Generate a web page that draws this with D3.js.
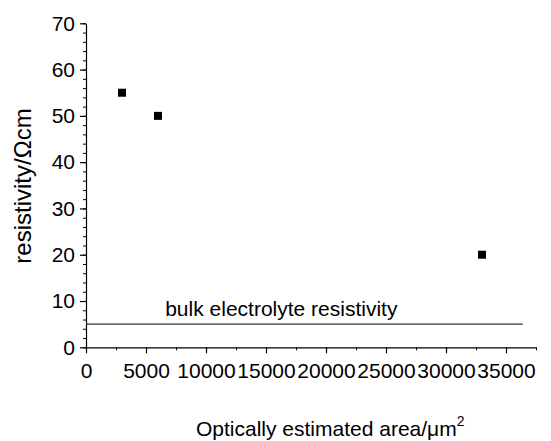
<!DOCTYPE html>
<html>
<head>
<meta charset="utf-8">
<script src="https://cdn.jsdelivr.net/npm/d3@7"></script>
<style>
  body { margin: 0; background: #fff; }
  text { font-family: "Liberation Sans", Arial, sans-serif; fill: #000; }
</style>
</head>
<body>
<div id="chart"></div>
<script>
const areas = [3000, 6000, 33000];
const resistivities = [55, 50, 20];
const bulkLevel = 5;
const bulkEnd = 36400;
const bulkLabel = "bulk electrolyte resistivity";
const xTicks = [0, 5000, 10000, 15000, 20000, 25000, 30000, 35000];
const yTicks = [0, 10, 20, 30, 40, 50, 60, 70];

const width = 551,
  height = 441;

const svg = d3
  .select("#chart")
  .append("svg")
  .attr("width", width)
  .attr("height", height);

const x = d3.scaleLinear().domain([0, 37500]).range([86, 536]);
const y = d3.scaleLinear().domain([0, 70]).range([347.3, 23.3]);

// minor ticks
svg
  .append("g")
  .attr("transform", "translate(0," + y(0) + ")")
  .call(d3.axisBottom(x).tickValues(d3.range(0, 37501, 2500)).tickSize(3).tickFormat(""))
  .call((g) => g.select("path").remove());

svg
  .append("g")
  .attr("transform", "translate(" + x(0) + ",0)")
  .call(d3.axisLeft(y).tickValues(d3.range(0, 71, 2)).tickSize(3).tickFormat(""))
  .call((g) => g.select("path").remove());

// major axes
const xAxis = svg
  .append("g")
  .attr("transform", "translate(0," + y(0) + ")")
  .call(
    d3.axisBottom(x).tickValues(xTicks).tickSize(6).tickPadding(10)
      .tickSizeOuter(0).tickFormat(d3.format("d"))
  );

const yAxis = svg
  .append("g")
  .attr("transform", "translate(" + x(0) + ",0)")
  .call(d3.axisLeft(y).tickValues(yTicks).tickSize(6).tickPadding(5).tickSizeOuter(0));

[xAxis, yAxis].forEach((g) => {
  g.selectAll("path, line").attr("stroke", "#000").attr("stroke-width", 1.2);
  g.selectAll("text")
    .style("font-size", "21px")
    .style("font-family", '"Liberation Sans", Arial, sans-serif')
    .attr("fill", "#000");
});

// bulk electrolyte line
svg
  .append("line")
  .attr("x1", x(0))
  .attr("x2", x(bulkEnd))
  .attr("y1", y(bulkLevel))
  .attr("y2", y(bulkLevel))
  .attr("stroke", "#333")
  .attr("stroke-width", 1.2);

svg
  .append("text")
  .attr("x", x(6600))
  .attr("y", y(6.7))
  .style("font-size", "21px")
  .text(bulkLabel);

// points
const pts = areas.map((a, i) => ({ a: a, r: resistivities[i] }));
const sq = 8;
svg
  .append("g")
  .selectAll("rect")
  .data(pts)
  .enter()
  .append("rect")
  .attr("x", (d) => x(d.a) - sq / 2)
  .attr("y", (d) => y(d.r) - sq / 2)
  .attr("width", sq)
  .attr("height", sq)
  .style("fill", "#000");

// axis titles
svg
  .append("text")
  .attr("x", 196)
  .attr("y", 436)
  .style("font-size", "21px")
  .html('Optically estimated area/μm<tspan dy="-10" style="font-size:14px">2</tspan>');

svg
  .append("text")
  .attr("transform", "translate(31,186) rotate(-90)")
  .style("text-anchor", "middle")
  .style("font-size", "24px")
  .text("resistivity/Ωcm");
</script>
</body>
</html>
